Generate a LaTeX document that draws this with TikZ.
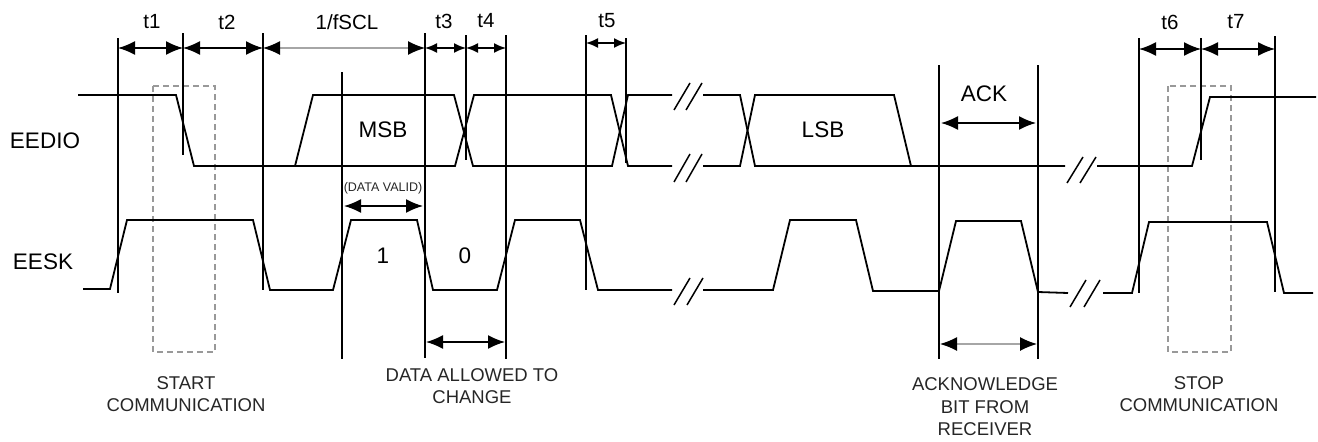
\documentclass[tikz,border=0pt]{standalone}
\usepackage{fontspec}
\setmainfont{Liberation Sans}
\usetikzlibrary{arrows.meta}
\begin{document}
\begin{tikzpicture}[x=1pt,y=-1pt,
  sig/.style={line width=1.8pt, line join=miter},
  vl/.style={line width=1.6pt},
  brk/.style={line width=1.5pt},
  dimb/.style={line width=1.6pt, {Latex[length=17pt,width=14pt]}-{Latex[length=17pt,width=14pt]}},
  dims/.style={line width=1.6pt, {Latex[length=12pt,width=10pt]}-{Latex[length=12pt,width=10pt]}},
  dimg/.style={draw=black!35, line width=1.3pt, {Latex[length=17pt,width=14pt,color=black]}-{Latex[length=17pt,width=14pt,color=black]}},
  dbox/.style={draw=black!40, dashed, dash pattern=on 6pt off 4pt, line width=1.2pt},
  tlab/.style={inner sep=0pt, font=\fontsize{20.5}{24}\selectfont},
  slab/.style={inner sep=0pt, font=\fontsize{22.5}{26}\selectfont},
  blab/.style={inner sep=0pt, align=center, text=black!85, font=\fontsize{18.5}{22.5}\selectfont},
  small/.style={inner sep=0pt, text=black!85, font=\fontsize{12.5}{14}\selectfont}]
\useasboundingbox (0,0) rectangle (1318,442);

% dashed boxes
\draw[dbox] (153,86) rectangle (215,352);
\draw[dbox] (1168,86) rectangle (1231,352);

% vertical lines
\draw[vl] (118,38) coordinate (a1) -- (118,293);
\draw[vl] (183,33) -- (183,155);
\draw[vl] (263,33) -- (263,290);
\draw[vl] (342,72) -- (342,359);
\draw[vl] (425,33) -- (425,358);
\draw[vl] (466,35) -- (466,160);
\draw[vl] (506,35) -- (506,359);
\draw[vl] (586,35) -- (586,290);
\draw[vl] (626,38) -- (626,163);
\draw[vl] (939,65) -- (939,359);
\draw[vl] (1038,65) -- (1038,359);
\draw[vl] (1139,38) -- (1139,293);
\draw[vl] (1201,38) -- (1201,160);
\draw[vl] (1275,36) -- (1275,292);

% dimension arrows
\coordinate (d1) at (118,48); \coordinate (d2) at (183,48); \coordinate (d3) at (263,48);
\coordinate (d4) at (425,48); \coordinate (d5) at (466,48); \coordinate (d6) at (506,48);
\coordinate (d7) at (586,43); \coordinate (d8) at (626,43);
\coordinate (d9) at (1139,49); \coordinate (d10) at (1201,49); \coordinate (d11) at (1275,49);
\draw[dimb] (d1) -- (d2);
\draw[dimb] (d2) -- (d3);
\draw[dimg] (d3) -- (d4);
\draw[dims] (d4) -- (d5);
\draw[dims] (d5) -- (d6);
\draw[dims] (d7) -- (d8);
\draw[dimb] (d9) -- (d10);
\draw[dimb] (d10) -- (d11);
\coordinate (ak1) at (941,123); \coordinate (ak2) at (1036,123);
\draw[dimb] (ak1) -- (ak2);
\coordinate (dv1) at (344,206); \coordinate (dv2) at (423,206);
\draw[dimb] (dv1) -- (dv2);
\coordinate (dc1) at (426,342); \coordinate (dc2) at (505,342);
\draw[dimb] (dc1) -- (dc2);
\coordinate (ab1) at (940,344); \coordinate (ab2) at (1037,344);
\draw[dimg] (ab1) -- (ab2);

% EEDIO
\draw[sig] (78,95) -- (176,95) -- (194,166) -- (455,166) -- (474,95) -- (611,95) -- (628,166) -- (672,166);
\draw[sig] (295,166) -- (313,95) -- (454,95) -- (473,166) -- (612,166) -- (628,95) -- (672,95);
\draw[sig] (703,95) -- (740,95) -- (755,166) -- (1065,166);
\draw[sig] (703,166) -- (740,166) -- (755,95) -- (894,95) -- (911,166);
\draw[sig] (1097,166) -- (1192,166) -- (1210,97) -- (1316,97);
% breaks EEDIO
\draw[brk] (674,110) -- (690,83) (686,110) -- (702,83);
\draw[brk] (674,182) -- (690,154) (686,182) -- (702,154);
\draw[brk] (1067,183) -- (1083,157) (1080,183) -- (1096,157);

% EESK
\draw[sig] (83,289) -- (110,289) -- (127,220) -- (253,220) -- (270,290) -- (333,290) -- (351,220) -- (417,220) -- (433,290) -- (497,290) -- (515,220) -- (580,220) -- (598,290) -- (672,290);
\draw[sig] (703,290) -- (773,290) -- (790,220) -- (856,220) -- (873,291) -- (939,291) -- (956,221) -- (1021,221) -- (1038,292) -- (1068,293);
\draw[sig] (1103,293) -- (1132,293) -- (1149,222) -- (1267,222) -- (1284,293) -- (1313,293);
% breaks EESK
\draw[brk] (674,305) -- (690,278) (687,305) -- (703,278);
\draw[brk] (1070,307) -- (1086,280) (1084,307) -- (1100,280);

% labels
\node[tlab] (t1) at (152,22) {t1};
\node[tlab] (t2) at (227,22) {t2};
\node[tlab] (f) at (347,22) {1/fSCL};
\node[tlab] (t3) at (444,21) {t3};
\node[tlab] (t4) at (486,21) {t4};
\node[tlab] (t5) at (607,21) {t5};
\node[tlab] (t6) at (1170,22) {t6};
\node[tlab] (t7) at (1236,22) {t7};

\node[slab] (eedio) at (45,141) {EEDIO};
\node[slab] (eesk) at (43,262) {EESK};
\node[slab] (msb) at (383,130) {MSB};
\node[slab] (lsb) at (823,130) {LSB};
\node[slab] (ack) at (984,94) {ACK};
\node[slab] (one) at (383,256) {1};
\node[slab] (zero) at (465,256) {0};
\node[small] (dvalid) at (383,188) {(DATA VALID)};

\node[blab] (start) at (186,394) {START\\COMMUNICATION};
\node[blab] (dac) at (472,386) {DATA ALLOWED TO\\CHANGE};
\node[blab] (abit) at (985,407) {ACKNOWLEDGE\\BIT FROM\\RECEIVER};
\node[blab] (stop) at (1199,394) {STOP\\COMMUNICATION};
\end{tikzpicture}
\end{document}
